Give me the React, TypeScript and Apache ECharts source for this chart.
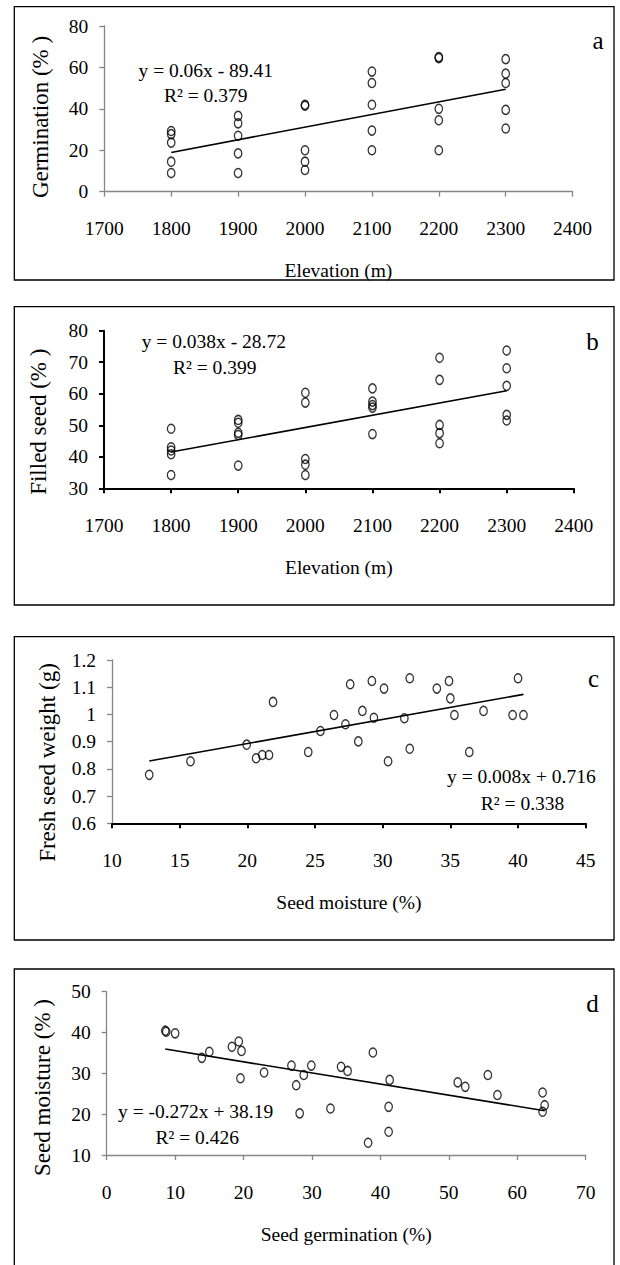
import React, { useEffect, useRef } from "react";
import * as echarts from "echarts";

// ---- Data ----
const elevations = [1800, 1900, 2000, 2100, 2200, 2300];
const germinationByElevation = [
  [29.3, 27.8, 23.7, 14.5, 9.0],
  [36.6, 33.0, 27.0, 18.5, 9.0],
  [42.0, 41.5, 20.0, 14.5, 10.5],
  [58.0, 52.5, 42.0, 29.5, 20.0],
  [65.0, 64.5, 40.0, 34.5, 20.0],
  [64.0, 57.0, 52.5, 39.5, 30.5],
];
const filledSeedByElevation = [
  [48.9, 43.0, 42.0, 40.8, 34.2],
  [51.7, 50.8, 47.6, 46.9, 37.2],
  [60.3, 57.2, 39.3, 37.5, 34.2],
  [61.7, 57.5, 56.4, 55.6, 47.2],
  [71.4, 64.4, 50.1, 47.5, 44.3],
  [73.7, 68.1, 62.5, 53.3, 51.5],
];
const moistureC = [
  12.75, 15.8, 19.95, 20.65, 21.1, 21.6, 21.9, 24.5, 25.4, 26.4, 27.25, 27.6, 28.2, 28.5, 29.2,
  29.35, 30.1, 30.4, 31.6, 32.0, 32.0, 34.0, 34.9, 35.0, 35.3, 36.4, 37.45, 39.6, 40.0, 40.4,
];
const freshWeightC = [
  0.778, 0.828, 0.889, 0.839, 0.851, 0.851, 1.046, 0.862, 0.939, 0.998, 0.964, 1.111, 0.901, 1.013,
  1.123, 0.988, 1.095, 0.828, 0.986, 1.133, 0.874, 1.095, 1.123, 1.059, 0.998, 0.862, 1.013, 0.998,
  1.133, 0.998,
];
const germinationD = [
  8.56, 8.7, 10.0, 13.9, 15.0, 18.3, 19.3, 19.7, 19.55, 23.0, 27.0, 27.7, 28.8, 28.2, 29.9, 32.7,
  34.25, 35.2, 38.9, 38.2, 41.35, 41.2, 41.2, 51.3, 52.4, 55.7, 57.1, 63.7, 64.0, 63.7,
];
const moistureD = [
  40.45, 40.2, 39.8, 33.8, 35.3, 36.5, 37.8, 35.5, 28.8, 30.2, 31.9, 27.1, 29.6, 20.2, 31.9, 21.4,
  31.6, 30.6, 35.1, 13.0, 28.4, 21.8, 15.7, 27.8, 26.7, 29.6, 24.7, 25.3, 22.2, 20.6,
];
const equations = [
  ["y = 0.06x - 89.41", "R² = 0.379"],
  ["y = 0.038x - 28.72", "R² = 0.399"],
  ["y = 0.008x + 0.716", "R² = 0.338"],
  ["y = -0.272x + 38.19", "R² = 0.426"],
];
const panelLetters = ["a", "b", "c", "d"];
const yTitles = ["Germination (% )", "Filled seed (% )", "Fresh seed weight (g)", "Seed moisture (% )"];
const xTitles = ["Elevation (m)", "Elevation (m)", "Seed moisture (%)", "Seed germination (%)"];

// ---- helpers ----
function flatten(xs: number[], groups: number[][]): [number[], number[]] {
  const X: number[] = [];
  const Y: number[] = [];
  groups.forEach((g, i) => g.forEach((v) => { X.push(xs[i]); Y.push(v); }));
  return [X, Y];
}
function fit(xs: number[], ys: number[]) {
  const n = xs.length;
  const mx = xs.reduce((a, b) => a + b, 0) / n;
  const my = ys.reduce((a, b) => a + b, 0) / n;
  let sxy = 0, sxx = 0;
  for (let i = 0; i < n; i++) { sxy += (xs[i] - mx) * (ys[i] - my); sxx += (xs[i] - mx) ** 2; }
  const k = sxy / sxx;
  const b = my - k * mx;
  const x0 = Math.min(...xs), x1 = Math.max(...xs);
  return [[x0, k * x0 + b], [x1, k * x1 + b]];
}

const FONT = "'Liberation Serif', 'Times New Roman', serif";
const GRAY = "#868686";
const fmt = (v: number) => String(parseFloat(v.toFixed(1)));

export default function App() {
  const ref = useRef<HTMLDivElement>(null);
  useEffect(() => {
    if (!ref.current) return;
    const chart = echarts.init(ref.current, undefined, { renderer: "svg" });

    const [ax, ay] = flatten(elevations, germinationByElevation);
    const [bx, by] = flatten(elevations, filledSeedByElevation);
    const panels = [
      { x: ax, y: ay },
      { x: bx, y: by },
      { x: moistureC, y: freshWeightC },
      { x: germinationD, y: moistureD },
    ];

    const grids = [
      { left: 104.3, top: 26, width: 468.3, height: 165.7 },
      { left: 104, top: 330.7, width: 469.8, height: 157.6 },
      { left: 112, top: 660, width: 473.7, height: 163.3 },
      { left: 106.7, top: 991.7, width: 479, height: 163.3 },
    ];
    const xRanges = [
      [1700, 2400, 100],
      [1700, 2400, 100],
      [10, 45, 5],
      [0, 70, 10],
    ];
    const yRanges = [
      [0, 80, 20],
      [30, 80, 10],
      [0.6, 1.2, 0.1],
      [10, 50, 10],
    ];
    const xAxisColor = [GRAY, "#000", "#000", GRAY];
    const yAxisColor = [GRAY, "#000", GRAY, GRAY];
    const xAxisWidth = [1.3, 2, 2, 1.3];
    const yAxisWidth = [1.3, 2, 1.3, 1.3];

    const xAxis = xRanges.map((r, i) => ({
      type: "value",
      gridIndex: i,
      min: r[0],
      max: r[1],
      interval: r[2],
      name: xTitles[i],
      nameLocation: "middle",
      nameGap: 69,
      nameTextStyle: { color: "#000", fontFamily: FONT, fontSize: 19.5 },
      axisLine: { show: true, onZero: false, lineStyle: { color: xAxisColor[i], width: xAxisWidth[i] } },
      axisTick: { show: true, length: 5, lineStyle: { color: xAxisColor[i], width: xAxisWidth[i] } },
      axisLabel: { color: "#000", fontFamily: FONT, fontSize: 19.5, margin: 27, formatter: fmt },
      splitLine: { show: false },
    }));
    const yAxis = yRanges.map((r, i) => ({
      type: "value",
      gridIndex: i,
      min: r[0],
      max: r[1],
      interval: r[2],
      axisLine: { show: true, onZero: false, lineStyle: { color: yAxisColor[i], width: yAxisWidth[i] } },
      axisTick: { show: true, length: 5, lineStyle: { color: yAxisColor[i], width: yAxisWidth[i] } },
      axisLabel: { color: "#000", fontFamily: FONT, fontSize: 19.5, margin: 16, formatter: fmt },
      splitLine: { show: false },
    }));

    const series: any[] = [];
    panels.forEach((p, i) => {
      series.push({
        type: "scatter",
        xAxisIndex: i,
        yAxisIndex: i,
        symbol: "circle",
        symbolSize: [7.5, 9],
        itemStyle: { color: "rgba(0,0,0,0)", borderColor: "#000", borderWidth: 1.4 },
        data: p.x.map((v, j) => [v, p.y[j]]),
        silent: true,
      });
      series.push({
        type: "line",
        xAxisIndex: i,
        yAxisIndex: i,
        symbol: "none",
        lineStyle: { color: "#000", width: 1.6 },
        data: fit(p.x, p.y),
        silent: true,
      });
    });

    const boxes = [
      [14.3, 6.7, 599.7, 273.3],
      [14.3, 306.7, 599.7, 298.3],
      [14.3, 636.7, 599.7, 303.3],
      [14.3, 969, 599.7, 310],
    ];
    const eqPos = [
      [138.5, 70, 164, 95],
      [141.7, 341.7, 173, 367.3],
      [447, 776.7, 480.8, 803.3],
      [118, 1111, 155.5, 1137.7],
    ];
    const letterPos = [
      [598, 40],
      [592.4, 341.7],
      [593.6, 678],
      [592.4, 1003.3],
    ];
    const yTitlePos = [
      [40.5, 117],
      [38.5, 421.7],
      [47.5, 762.5],
      [42.5, 1087.5],
    ];

    const graphic: any[] = [];
    boxes.forEach((b) =>
      graphic.push({
        type: "rect",
        silent: true,
        shape: { x: b[0], y: b[1], width: b[2], height: b[3] },
        style: { fill: "none", stroke: "#000", lineWidth: 1.3 },
      })
    );
    equations.forEach((eq, i) => {
      const p = eqPos[i];
      graphic.push({
        type: "text",
        x: p[0],
        y: p[1],
        style: { text: eq[0], fill: "#000", fontFamily: FONT, fontSize: 19.5, align: "left", verticalAlign: "middle" },
      });
      graphic.push({
        type: "text",
        x: p[2],
        y: p[3],
        style: { text: eq[1], fill: "#000", fontFamily: FONT, fontSize: 19.5, align: "left", verticalAlign: "middle" },
      });
    });
    panelLetters.forEach((l, i) =>
      graphic.push({
        type: "text",
        x: letterPos[i][0],
        y: letterPos[i][1],
        style: { text: l, fill: "#000", fontFamily: FONT, fontSize: 25, align: "center", verticalAlign: "middle" },
      })
    );
    yTitles.forEach((t, i) =>
      graphic.push({
        type: "text",
        x: yTitlePos[i][0],
        y: yTitlePos[i][1],
        rotation: Math.PI / 2,
        style: { text: t, fill: "#000", fontFamily: FONT, fontSize: 23, align: "center", verticalAlign: "middle" },
      })
    );

    chart.setOption({
      animation: false,
      backgroundColor: "#fff",
      grid: grids,
      xAxis,
      yAxis,
      series,
      graphic,
    });
    return () => chart.dispose();
  }, []);

  return (
    <div
      ref={ref}
      style={{ position: "absolute", left: 0, top: 0, width: 620, height: 1265, background: "#fff" }}
    />
  );
}
